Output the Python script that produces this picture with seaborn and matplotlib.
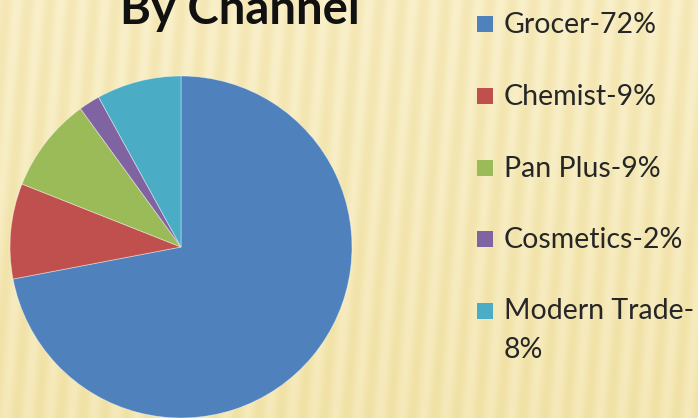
import numpy as np
import matplotlib
matplotlib.use("Agg")
import matplotlib.pyplot as plt
import seaborn as sns
from matplotlib.patches import Rectangle

# Sales share by channel
channels = ["Grocer", "Chemist", "Pan Plus", "Cosmetics", "Modern Trade"]
shares = [72, 9, 9, 2, 8]
legend_labels = ["Grocer-72%", "Chemist-9%", "Pan Plus-9%", "Cosmetics-2%", "Modern Trade-\n8%"]
colors = ["#4F81BD", "#C0504D", "#9BBB59", "#8064A2", "#4BACC6"]

sns.set_theme(style="white")
plt.rcParams["font.family"] = ["Lato", "DejaVu Sans"]
palette = sns.color_palette(colors)

W, H = 698, 418
fig = plt.figure(figsize=(W / 100, H / 100), dpi=100)

# Soft striped parchment backdrop, warmer towards the bottom
bg = fig.add_axes([0, 0, 1, 1])
yy, xx = np.mgrid[0:H, 0:W]
wave = 0.5 + 0.5 * np.sin(2 * np.pi * (xx + 0.08 * yy) / 22.0)
vert = yy / H
light = np.array([251, 243, 210]) / 255.0
dark = np.array([240, 224, 162]) / 255.0
mix = (0.15 + 0.45 * wave + 0.35 * vert)[..., None]
img = light[None, None, :] * (1 - mix) + dark[None, None, :] * mix
bg.imshow(np.clip(img, 0, 1), aspect="auto", extent=[0, W, H, 0])
bg.set_xlim(0, W)
bg.set_ylim(H, 0)
bg.set_axis_off()

# Pie
cx, cy, r = 181, 247, 171
ax = fig.add_axes([(cx - r) / W, (H - cy - r) / H, 2 * r / W, 2 * r / H])
ax.pie(shares, colors=palette, startangle=90, counterclock=False, radius=1.0,
       wedgeprops=dict(linewidth=0.6, edgecolor=(1, 1, 1, 0.45)))
ax.set_xlim(-1, 1)
ax.set_ylim(-1, 1)
ax.set_aspect("equal")
ax.set_axis_off()

# Title
fig.text(240 / W, (H - 24) / H, "By Channel", ha="center", va="baseline",
         fontsize=34, fontweight="bold", color="#111111")

# Legend: swatch plus label per channel (swatch beside the first text line)
baselines = [33, 105, 177, 248, 320]
line_step = 38
for label, col, base in zip(legend_labels, palette, baselines):
    n_lines = label.count("\n") + 1
    bg.add_patch(Rectangle((477, base - 17), 16, 16, facecolor=col, edgecolor="none"))
    bg.text(504, base + (n_lines - 1) * line_step, label, ha="left", va="baseline",
            fontsize=20.5, color="#262626", linespacing=1.6)

fig.savefig("out.png", dpi=100)
